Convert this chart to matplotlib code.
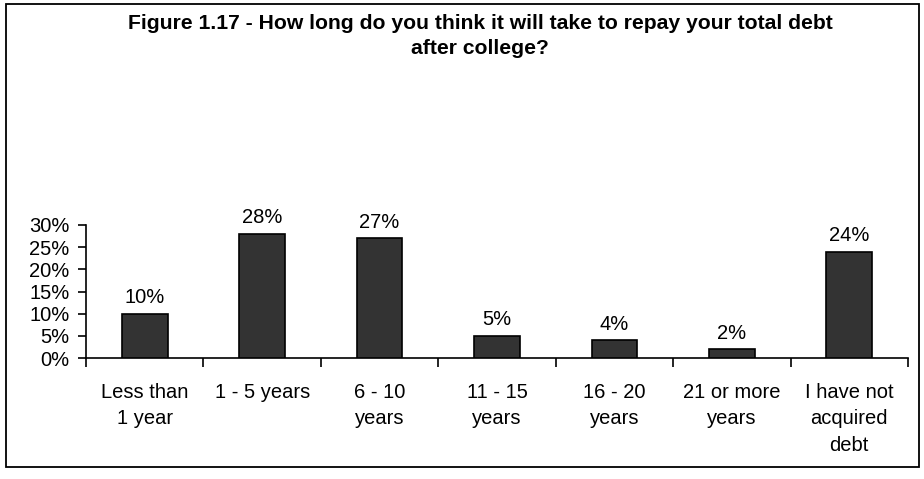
import matplotlib
matplotlib.use("Agg")
import matplotlib.pyplot as plt
from matplotlib.patches import Rectangle

categories = ["Less than\n1 year", "1 - 5 years", "6 - 10\nyears", "11 - 15\nyears",
              "16 - 20\nyears", "21 or more\nyears", "I have not\nacquired\ndebt"]
values = [10, 28, 27, 5, 4, 2, 24]
yticks = [0, 5, 10, 15, 20, 25, 30]
ytick_labels = ["0%", "5%", "10%", "15%", "20%", "25%", "30%"]
title = "Figure 1.17 - How long do you think it will take to repay your total debt\nafter college?"

plt.rcParams["font.family"] = ["Liberation Sans", "DejaVu Sans"]

W, H = 924, 479
FS = 14.5
fig = plt.figure(figsize=(W / 100, H / 100), dpi=100)

# outer frame
fig.patches.append(Rectangle((6 / W, 1 - 467 / H), 913 / W, 463 / H, transform=fig.transFigure,
                             fill=False, edgecolor="black", linewidth=1.3))

ax = fig.add_axes([86 / W, 1 - 358 / H, (908 - 86) / W, (358 - 225) / H])
x = list(range(len(values)))
ax.bar(x, values, width=0.39, color="#333333", edgecolor="black", linewidth=1.2, zorder=3)
ax.set_xlim(-0.5, len(values) - 0.5)
ax.set_ylim(0, 30)

for xi, v in zip(x, values):
    ax.annotate(f"{v}%", (xi, v), xytext=(0, 7.5), textcoords="offset points",
                ha="center", va="baseline", fontsize=FS)

ax.set_yticks(yticks)
ax.set_yticklabels(ytick_labels, fontsize=FS)
ax.set_xticks([i + 0.5 for i in range(-1, len(values))])
ax.set_xticklabels([])
ax.tick_params(axis="x", direction="out", length=6.5, width=1.2)
ax.tick_params(axis="y", direction="out", length=6, width=1.2, pad=6)

for i, lab in enumerate(categories):
    ax.annotate(lab, (i, 0), xytext=(0, -18), textcoords="offset points",
                ha="center", va="top", fontsize=FS, linespacing=1.5)

for s in ["top", "right"]:
    ax.spines[s].set_visible(False)
ax.spines["left"].set_linewidth(1.2)
ax.spines["bottom"].set_linewidth(1.2)

fig.text(480 / W, 1 - 14 / H, title, ha="center", va="top", fontsize=15.2, fontweight="bold",
         linespacing=1.4)

fig.savefig("out.png", dpi=100)
